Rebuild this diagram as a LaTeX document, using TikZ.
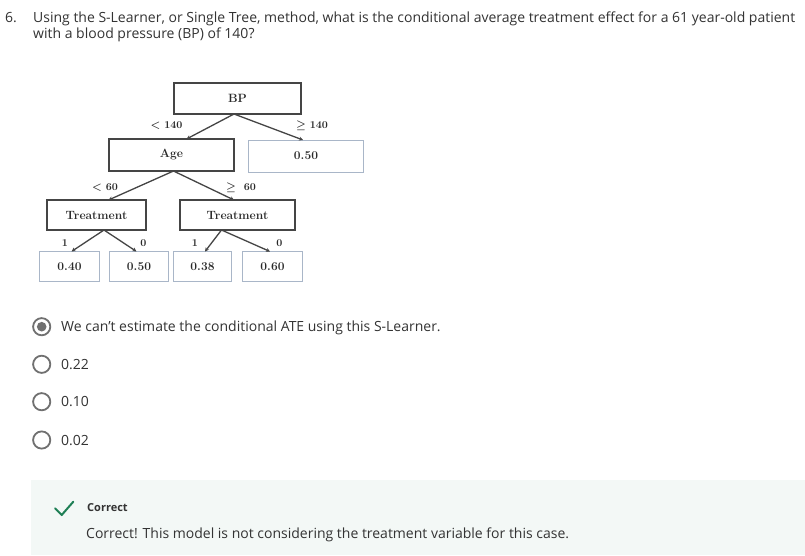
\documentclass[tikz,border=0pt]{standalone}
\usepackage{fontspec}
\newfontfamily\osans{Open Sans}
\usetikzlibrary{arrows.meta}
\definecolor{txt}{HTML}{333333}
\definecolor{treetxt}{HTML}{2A2A2A}
\definecolor{edgec}{HTML}{454545}
\definecolor{leafc}{HTML}{A9B6C8}
\definecolor{radioc}{HTML}{707070}
\definecolor{okbg}{HTML}{F3F8F6}
\definecolor{okgreen}{HTML}{1E7F55}
\tikzset{
  inner/.style={draw=edgec, line width=1.3pt, inner sep=0pt, font=\fontsize{12}{13}\selectfont\bfseries, text=treetxt},
  leaf/.style={draw=leafc, line width=1pt, inner sep=0pt, font=\fontsize{12}{13}\selectfont\bfseries, text=treetxt},
  edge/.style={draw=edgec, line width=1.3pt, -{Stealth[length=4pt,width=4pt]}},
  elab/.style={font=\fontsize{10.5}{11}\selectfont\bfseries\boldmath, text=treetxt, inner sep=0pt},
  qtext/.style={font=\osans\fontsize{14}{16}\selectfont, text=txt, inner sep=0pt, anchor=base west},
  radio/.style={draw=radioc, line width=1.8pt},
}
\begin{document}
\begin{tikzpicture}[x=1pt,y=-1pt]
\useasboundingbox (0,0) rectangle (805,555);
\fill[white] (0,0) rectangle (805,555);
% question
\node[qtext] (qn) at (5,22) {6.};
\node[qtext] (q1) at (33,22) {Using the S-Learner, or Single Tree, method, what is the conditional average treatment effect for a 61 year-old patient};
\node[qtext] (q2) at (33,38) {with a blood pressure (BP) of 140?};
% tree nodes
\node[inner, minimum width=127pt, minimum height=31pt] (bp) at (237.5,98.5) {BP};
\node[inner, minimum width=125pt, minimum height=32pt] (age) at (171.5,155) {Age};
\node[leaf, minimum width=115pt, minimum height=32pt] (r50) at (306,156) {0.50};
\node[inner, minimum width=99pt, minimum height=30pt] (tl) at (96.5,215) {Treatment};
\node[inner, minimum width=115pt, minimum height=30pt] (tr) at (237.5,215) {Treatment};
\node[leaf, minimum width=60pt, minimum height=30pt] (l40) at (69.5,266.5) {0.40};
\node[leaf, minimum width=59pt, minimum height=30pt] (l50) at (139,266.5) {0.50};
\node[leaf, minimum width=58pt, minimum height=30pt] (l38) at (202.5,266.5) {0.38};
\node[leaf, minimum width=60pt, minimum height=30pt] (l60) at (272.5,266.5) {0.60};
% edges
\coordinate (bpA) at (234,114);
\coordinate (ageT) at (186.5,139);
\coordinate (r50T) at (303,140);
\draw[edge] (bpA) -- (ageT);
\draw[edge] (bpA) -- (r50T);
\coordinate (ageB) at (173.5,171);
\coordinate (tlT) at (108.5,200);
\coordinate (trT) at (234,200);
\draw[edge] (ageB) -- (tlT);
\draw[edge] (ageB) -- (trT);
\coordinate (tlB) at (104,230);
\coordinate (l40T) at (71.5,251.5);
\coordinate (l50T) at (136.5,251.5);
\draw[edge] (tlB) -- (l40T);
\draw[edge] (tlB) -- (l50T);
\coordinate (trB) at (221.5,230);
\coordinate (l38T) at (205,251.5);
\coordinate (l60T) at (270,251.5);
\draw[edge] (trB) -- (l38T);
\draw[edge] (trB) -- (l60T);
% edge labels
\node[elab] (e1) at (166.5,126) {$<$ 140};
\node[elab] (e2) at (312,126) {$\geq$ 140};
\node[elab] (e3) at (105,188) {$<$ 60};
\node[elab] (e4) at (241,188) {$\geq$ \ 60};
\node[elab] (e5) at (65,243) {1};
\node[elab] (e6) at (143.5,243) {0};
\node[elab] (e7) at (195,243) {1};
\node[elab] (e8) at (279.5,243) {0};
% options
\draw[radio] (41.7,326.7) circle (8.6);
\fill[radioc] (41.7,326.7) circle (4.8);
\node[qtext] (o1) at (61,331.5) {We can’t estimate the conditional ATE using this S-Learner.};
\draw[radio] (41.7,364.3) circle (8.6);
\node[qtext] (o2) at (61,369) {0.22};
\draw[radio] (41.7,401.7) circle (8.6);
\node[qtext] (o3) at (61,406.5) {0.10};
\draw[radio] (41.7,440) circle (8.6);
\node[qtext] (o4) at (61,445) {0.02};
% feedback box
\fill[okbg] (31,480) rectangle (805,555);
\draw[okgreen, line width=2pt, line cap=round, line join=round] (55,508.3) -- (61.7,515) -- (73.3,501.7);
\node[qtext, font=\osans\fontsize{11}{12}\selectfont\bfseries] (ok) at (87,511.5) {Correct};
\node[qtext] (fb) at (86,538) {Correct! This model is not considering the treatment variable for this case.};
\end{tikzpicture}
\end{document}
